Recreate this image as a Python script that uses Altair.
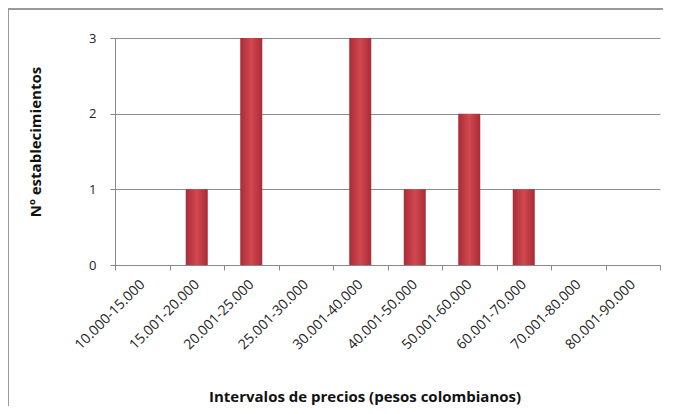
import altair as alt
import pandas as pd

categories = ["10.000-15.000", "15.001-20.000", "20.001-25.000", "25.001-30.000",
              "30.001-40.000", "40.001-50.000", "50.001-60.000", "60.001-70.000",
              "70.001-80.000", "80.001-90.000"]
counts = [0, 1, 3, 0, 3, 1, 2, 1, 0, 0]
y_ticks = [0, 1, 2, 3]

df = pd.DataFrame({"cat": categories, "n": counts})

W, H = 545, 227
PL, PT = 107, 30

FONT = "Open Sans"

grad = alt.Gradient(
    gradient="linear",
    stops=[alt.GradientStop(color="#a82c36", offset=0),
           alt.GradientStop(color="#d24850", offset=0.5),
           alt.GradientStop(color="#a82c36", offset=1)],
    x1=0, x2=1, y1=0, y2=0,
)

bars = alt.Chart(df).mark_bar(size=22, color=grad).encode(
    x=alt.X("cat:N", sort=categories,
            scale=alt.Scale(paddingInner=0, paddingOuter=0),
            axis=alt.Axis(title="Intervalos de precios (pesos colombianos)",
                          labelAngle=-45, labelAlign="right", labelBaseline="middle",
                          labelFont=FONT, labelFontSize=14, labelColor="#222",
                          tickBand="extent", tickColor="#888", tickSize=5,
                          domainColor="#888", labelPadding=12,
                          titleFont=FONT, titleFontSize=15, titleFontWeight="bold",
                          titleColor="#111", titleX=W / 2 - 23, titleY=131,
                          titleBaseline="middle", titleAlign="center")),
    y=alt.Y("n:Q", scale=alt.Scale(domain=[0, 3], nice=False),
            axis=alt.Axis(title="Nº establecimientos", values=y_ticks, format="d",
                          grid=True, gridColor="#8c8c8c", gridWidth=1,
                          domainColor="#888", tickColor="#888", tickSize=5,
                          labelFont=FONT, labelFontSize=13, labelColor="#222",
                          labelPadding=14,
                          titleFont=FONT, titleFontSize=15, titleFontWeight="bold",
                          titleColor="#111", titleX=-80, titleY=H / 2 - 10,
                          titleAngle=-90, titleBaseline="middle", titleAlign="center")),
)

border_top = alt.Chart(df).mark_rule(color="#999", strokeWidth=1, clip=False).encode(
    x=alt.value(-PL), x2=alt.value(W + 3), y=alt.value(-PT + 1)
)
border_left = alt.Chart(df).mark_rule(color="#999", strokeWidth=1, clip=False).encode(
    x=alt.value(-PL), y=alt.value(-PT + 1), y2=alt.value(H + 141)
)

chart = alt.layer(bars, border_top, border_left).properties(
    width=W, height=H,
    padding={"left": PL, "top": PT, "right": 11, "bottom": 141},
    autosize=alt.AutoSizeParams(type="none"),
    background="white",
).configure_view(stroke=None)

chart.save("out.html", embed_options={"renderer": "svg", "actions": False})
